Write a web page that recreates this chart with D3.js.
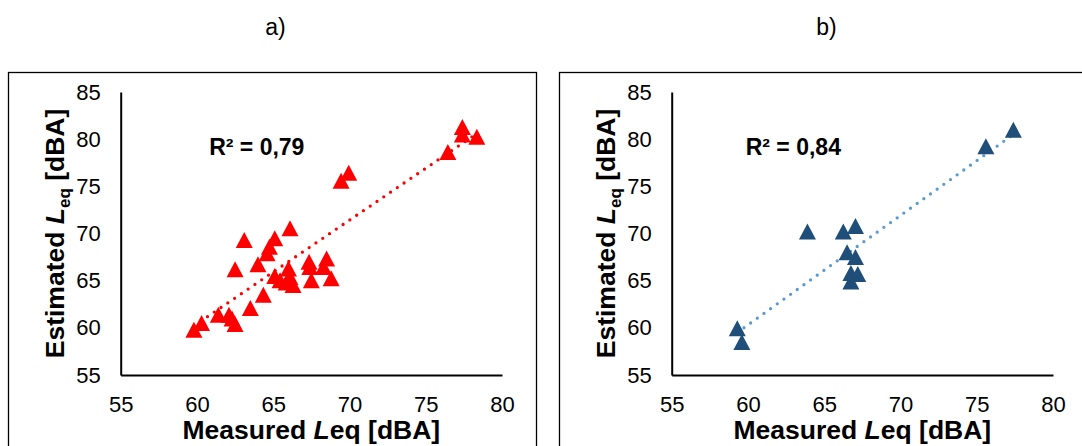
<!DOCTYPE html>
<head>
  <meta charset="utf-8">
  <style>
    body { margin: 0; background: #fff; }
    text { font-family: Arial, "Liberation Sans", sans-serif; }
  </style>
</head>
<body>
  <div id="chart"></div>
  <script src="https://d3js.org/d3.v7.min.js"></script>
  <script>

    // panel a) - all points
    var measuredA = [59.8, 60.3, 61.4, 62.1, 62.3, 62.5, 62.5, 63.1, 63.5, 64.0, 64.35, 64.6, 64.75, 65.1,
                     66.1, 65.1, 66.0, 65.45, 65.85, 66.3, 66.1, 67.35, 67.4, 67.5, 68.3, 68.5, 68.8,
                     69.45, 69.95, 76.45, 77.4, 77.4, 78.35]
    var estimatedA = [59.8, 60.5, 61.4, 61.4, 61.0, 60.4, 66.2, 69.3, 62.1, 66.75, 63.5, 67.9, 68.6, 69.5,
                      70.55, 65.5, 66.3, 65.05, 64.8, 64.55, 65.4, 67.0, 66.45, 65.05, 66.45, 67.35, 65.25,
                      75.6, 76.45, 78.65, 80.5, 81.3, 80.25]
    var trendA = [[59.8, 60.2], [78.35, 80.6]]

    // panel b) - validation points
    var measuredB = [59.3, 59.6, 63.9, 66.25, 67.05, 66.5, 67.05, 66.75, 67.2, 66.75, 75.6, 77.4]
    var estimatedB = [59.95, 58.5, 70.2, 70.2, 70.8, 68.0, 67.5, 65.8, 65.7, 64.9, 79.25, 81.0]
    var trendB = [[59.3, 59.5], [77.4, 80.5]]

    var ticks = [55, 60, 65, 70, 75, 80, 85]
    var xTicks = [55, 60, 65, 70, 75, 80]

    var width = 1082, height = 446

    var svg = d3.select("#chart").append("svg")
      .attr("width", width)
      .attr("height", height)

    var panels = [
      { title: "a)", xs: measuredA, ys: estimatedA, trend: trendA, r2: "R\u00b2 = 0,79",
        r2x: 60.8, color: "#ff0000", dots: "#ff0000", off: 0 },
      { title: "b)", xs: measuredB, ys: estimatedB, trend: trendB, r2: "R\u00b2 = 0,84",
        r2x: 59.85, color: "#1f4e79", dots: "#5b9bd5", off: 551 }
    ]

    var triangle = "M0,-8L8.5,8L-8.5,8Z"

    panels.forEach(function (p) {

      var g = svg.append("g").attr("transform", "translate(" + p.off + ",0)")

      var x = d3.scaleLinear().domain([55, 80]).range([120.7, 502])
      var y = d3.scaleLinear().domain([55, 85]).range([375, 92])

      // frame
      g.append("rect")
        .attr("x", 8.5).attr("y", 72.5)
        .attr("width", 528).attr("height", 420)
        .attr("fill", "none")
        .attr("stroke", "#000")
        .attr("stroke-width", 1.3)

      g.append("text").text(p.title)
        .attr("x", 275.5).attr("y", 35)
        .attr("text-anchor", "middle")
        .style("font-size", "23px")

      // axes
      var yAxis = g.append("g")
        .attr("transform", "translate(" + x(55) + ",0)")
        .call(d3.axisLeft(y).tickValues(ticks).tickSize(0).tickSizeOuter(0).tickPadding(20))
      var xAxis = g.append("g")
        .attr("transform", "translate(0," + y(55) + ")")
        .call(d3.axisBottom(x).tickValues(xTicks).tickSize(0).tickSizeOuter(0).tickPadding(21))

      ;[xAxis, yAxis].forEach(function (a) {
        a.select(".domain").attr("stroke", "#000").attr("stroke-width", 2)
        a.selectAll("text")
          .attr("fill", "#000")
          .style("font-size", "22px")
          .style("font-family", "Arial, 'Liberation Sans', sans-serif")
      })

      // axis titles
      var xt = g.append("text")
        .attr("x", (x(55) + x(80)) / 2).attr("y", 439)
        .attr("text-anchor", "middle")
        .style("font-size", "26.5px").style("font-weight", "bold")
      xt.append("tspan").text("Measured ")
      xt.append("tspan").text("L").style("font-style", "italic")
      xt.append("tspan").text("eq [dBA]")

      var yt = g.append("text")
        .attr("transform", "translate(63.5," + (y(55) + y(85)) / 2 + ") rotate(-90)")
        .attr("text-anchor", "middle")
        .style("font-size", "26.5px").style("font-weight", "bold")
      yt.append("tspan").text("Estimated ")
      yt.append("tspan").text("L").style("font-style", "italic")
      yt.append("tspan").text("eq").attr("dy", 6).style("font-size", "17px")
      yt.append("tspan").text(" [dBA]").attr("dy", -6)

      // dotted trendline
      g.append("path")
        .datum(p.trend)
        .attr("d", d3.line().x(function (d) { return x(d[0]) }).y(function (d) { return y(d[1]) }))
        .attr("fill", "none")
        .attr("stroke", p.dots)
        .attr("stroke-width", 3.3)
        .attr("stroke-linecap", "round")
        .attr("stroke-dasharray", "0,8.2")

      // triangle markers
      g.append("g").selectAll("path")
        .data(p.xs.map(function (v, i) { return [v, p.ys[i]] }))
        .enter().append("path")
          .attr("d", triangle)
          .attr("transform", function (d) { return "translate(" + x(d[0]) + "," + y(d[1]) + ")" })
          .attr("fill", p.color)

      g.append("text").text(p.r2)
        .attr("x", x(p.r2x)).attr("y", 155)
        .style("font-size", "23px").style("font-weight", "bold")
    })
  </script>
</body>
